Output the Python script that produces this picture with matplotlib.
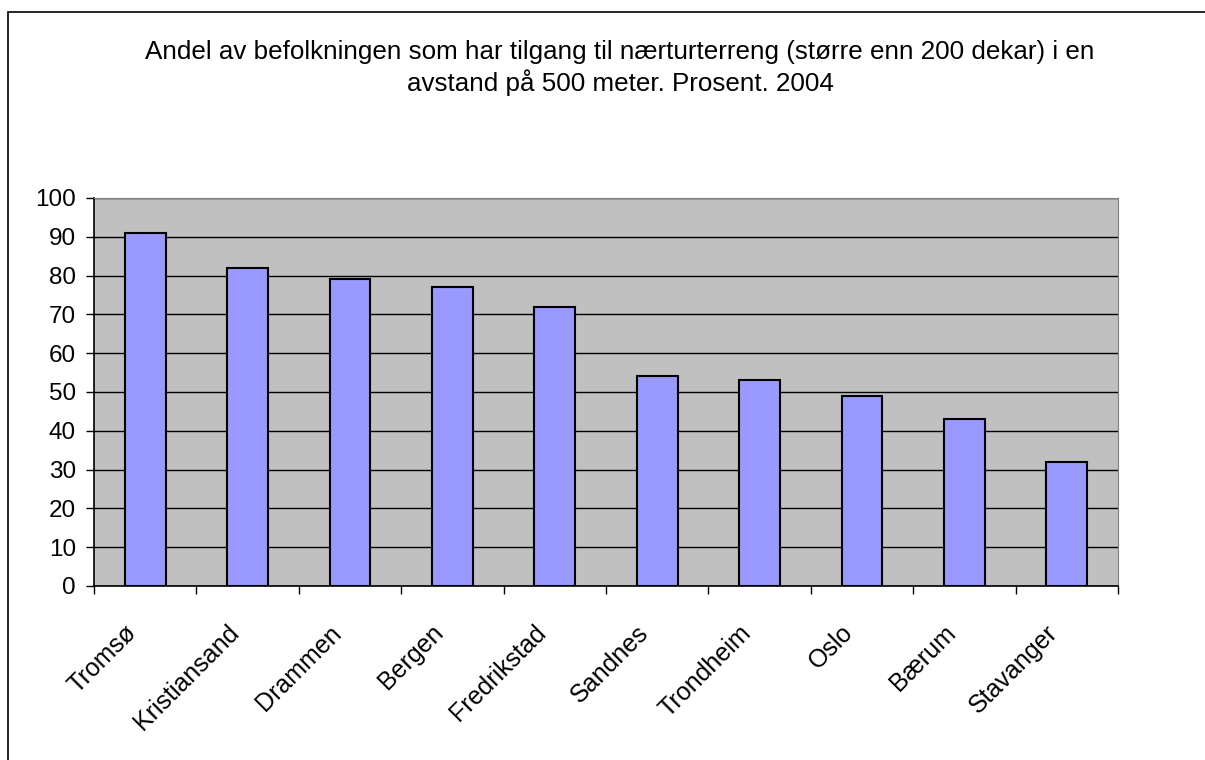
import numpy as np
import matplotlib.pyplot as plt
from matplotlib.patches import Rectangle

plt.rcParams['font.family'] = ['Liberation Sans', 'DejaVu Sans']

kommuner = ['Tromsø', 'Kristiansand', 'Drammen', 'Bergen', 'Fredrikstad',
            'Sandnes', 'Trondheim', 'Oslo', 'Bærum', 'Stavanger']
andel = [91, 82, 79, 77, 72, 54, 53, 49, 43, 32]
y_ticks = list(range(0, 101, 10))
tittel = ['Andel av befolkningen som har tilgang til nærturterreng (større enn 200 dekar) i en',
          'avstand på 500 meter. Prosent. 2004']

W, H = 1205, 760
fig = plt.figure(figsize=(W / 100, H / 100), dpi=100)
ax = fig.add_axes([94 / W, 1 - 586 / H, 1024 / W, 388 / H])

# outer chart frame
fig.patches.append(Rectangle((8 / W, -0.05), 1.2, 1 - 12 / H + 0.05,
                             transform=fig.transFigure, fill=False,
                             edgecolor='black', linewidth=1.2))

x = np.arange(len(kommuner))
ax.set_facecolor('#C0C0C0')
ax.bar(x, andel, width=0.4, color='#9999FF', edgecolor='black', linewidth=1.5, zorder=3)

ax.set_xlim(-0.5, len(kommuner) - 0.5)
ax.set_ylim(0, 100)
ax.set_yticks(y_ticks)
ax.yaxis.grid(True, color='black', linewidth=1.0, zorder=1)
ax.set_axisbelow(True)
ax.tick_params(axis='y', labelsize=17.5, length=6, width=1, direction='out', pad=7)

# category boundary ticks, labels centred under the bars
ax.set_xticks(np.arange(len(kommuner) + 1) - 0.5)
ax.set_xticklabels([])
ax.tick_params(axis='x', length=6, width=1, direction='out')
for xi, navn in zip(x, kommuner):
    ax.annotate(navn, xy=(xi, 0), xycoords=('data', 'axes fraction'),
                xytext=(-9, -31), textcoords='offset points',
                rotation=45, ha='right', va='center', rotation_mode='anchor',
                fontsize=18)

for side in ['top', 'right']:
    ax.spines[side].set_color('#808080')
for side in ['left', 'bottom']:
    ax.spines[side].set_color('black')
    ax.spines[side].set_linewidth(1.2)

for linje, y_px in zip(tittel, [59, 91]):
    fig.text(620 / W, 1 - y_px / H, linje, ha='center', va='baseline', fontsize=18.7)

fig.savefig('out.png', dpi=100, facecolor='white')
